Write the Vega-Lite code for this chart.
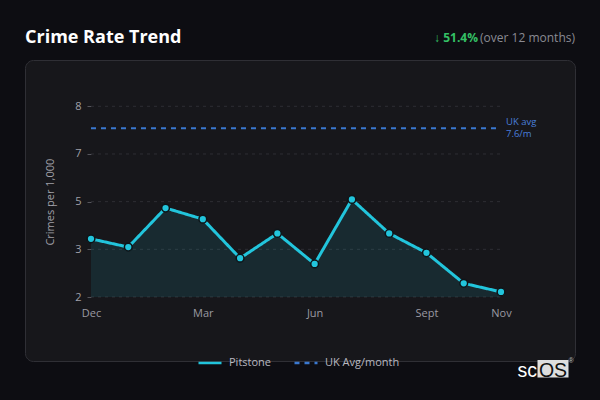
{
  "$schema": "https://vega.github.io/schema/vega-lite/v6.json",
  "width": 550,
  "height": 301,
  "autosize": {"type": "none"},
  "padding": {"left": 25, "top": 60, "right": 25, "bottom": 39},
  "background": "#0d0d12",
  "config": {
    "font": "Open Sans",
    "view": {"fill": "#17171b", "stroke": "#2f2f35", "cornerRadius": 8, "strokeWidth": 1},
    "legend": {
      "orient": "none",
      "legendX": 172,
      "legendY": 290,
      "direction": "horizontal",
      "symbolType": "stroke",
      "symbolSize": 529,
      "symbolStrokeWidth": 2.5,
      "labelColor": "#b8b8c0",
      "labelFontSize": 11,
      "labelFont": "Open Sans",
      "labelOffset": 6,
      "columnPadding": 17,
      "title": null
    }
  },
  "datasets": {
    "trend": [
      {"month": "Dec", "rate": 3.83, "series": "Pitstone"},
      {"month": "Jan", "rate": 3.57, "series": "Pitstone"},
      {"month": "Feb", "rate": 4.80, "series": "Pitstone"},
      {"month": "Mar", "rate": 4.45, "series": "Pitstone"},
      {"month": "Apr", "rate": 3.22, "series": "Pitstone"},
      {"month": "May", "rate": 4.00, "series": "Pitstone"},
      {"month": "Jun", "rate": 3.04, "series": "Pitstone"},
      {"month": "Jul", "rate": 5.07, "series": "Pitstone"},
      {"month": "Aug", "rate": 4.00, "series": "Pitstone"},
      {"month": "Sept", "rate": 3.39, "series": "Pitstone"},
      {"month": "Oct", "rate": 2.43, "series": "Pitstone"},
      {"month": "Nov", "rate": 2.16, "series": "Pitstone"}
    ],
    "uk": [{"from": "Dec", "to": "Nov", "value": 7.31, "series": "UK Avg/month"}],
    "grid": [{"v": 2}, {"v": 3.5}, {"v": 5}, {"v": 6.5}, {"v": 8}]
  },
  "layer": [
    {
      "data": {"name": "grid"},
      "mark": {"type": "rule", "stroke": "#2e2e34", "strokeWidth": 1, "strokeDash": [3, 4]},
      "encoding": {
        "x": {"datum": "Dec", "type": "ordinal", "title": null, "scale": {"type": "point", "padding": 0, "domain": ["Dec","Jan","Feb","Mar","Apr","May","Jun","Jul","Aug","Sept","Oct","Nov"], "range": [66, 476]}},
        "x2": {"datum": "Nov"},
        "y": {"field": "v", "type": "quantitative", "title": "Crimes per 1,000", "scale": {"domain": [2, 8], "range": [237, 46.3], "nice": false, "zero": false}}
      }
    },
    {
      "data": {"name": "trend"},
      "mark": {"type": "area", "fill": "#22c5dc", "fillOpacity": 0.11},
      "encoding": {
        "x": {"field": "month", "type": "ordinal", "sort": null, "title": null},
        "y": {"field": "rate", "type": "quantitative", "title": "Crimes per 1,000"},
        "y2": {"datum": 2}
      }
    },
    {
      "data": {"name": "uk"},
      "mark": {"type": "rule", "strokeWidth": 2},
      "encoding": {
        "x": {"field": "from", "type": "ordinal", "title": null},
        "x2": {"field": "to"},
        "y": {"field": "value", "type": "quantitative", "title": "Crimes per 1,000"},
        "color": {"field": "series", "type": "nominal", "scale": {"domain": ["Pitstone", "UK Avg/month"], "range": ["#22c5dc", "#3a78d0"]}},
        "strokeDash": {"field": "series", "type": "nominal", "scale": {"domain": ["Pitstone", "UK Avg/month"], "range": [[1, 0], [5, 5]]}}
      }
    },
    {
      "data": {"name": "trend"},
      "mark": {"type": "line", "strokeWidth": 3},
      "encoding": {
        "x": {
          "field": "month", "type": "ordinal", "sort": null, "title": null,
          "axis": {
            "orient": "bottom", "offset": -64, "values": ["Dec", "Mar", "Jun", "Sept", "Nov"],
            "labelAngle": 0, "labelAlign": "center", "labelBaseline": "top", "ticks": false, "domain": false, "grid": false,
            "labelColor": "#9a9aa2", "labelFontSize": 11, "labelFont": "Open Sans", "labelPadding": 10
          }
        },
        "y": {
          "field": "rate", "type": "quantitative", "title": "Crimes per 1,000",
          "axis": {
            "orient": "left", "offset": -66, "values": [2, 3.5, 5, 6.5, 8],
            "labelExpr": "datum.value == 3.5 ? '3' : datum.value == 6.5 ? '7' : format(datum.value, 'd')",
            "domain": false, "grid": false, "ticks": true, "tickSize": 4, "tickColor": "#55555c",
            "labelColor": "#a0a0a8", "labelFontSize": 11, "labelFont": "Open Sans", "labelPadding": 6,
            "titleColor": "#a0a0a8", "titleFontSize": 11, "titleFont": "Open Sans", "titleFontWeight": "normal", "titlePadding": 19
          }
        },
        "color": {"field": "series", "type": "nominal", "scale": {"domain": ["Pitstone", "UK Avg/month"], "range": ["#22c5dc", "#3a78d0"]}},
        "strokeDash": {"field": "series", "type": "nominal", "scale": {"domain": ["Pitstone", "UK Avg/month"], "range": [[1, 0], [5, 5]]}}
      }
    },
    {
      "data": {"name": "trend"},
      "mark": {"type": "point", "filled": true, "fill": "#22c5dc", "stroke": "#0e1418", "strokeWidth": 1.5, "size": 60, "opacity": 1},
      "encoding": {
        "x": {"field": "month", "type": "ordinal", "sort": null, "title": null},
        "y": {"field": "rate", "type": "quantitative", "title": "Crimes per 1,000"}
      }
    },
    {
      "data": {"name": "uk"},
      "mark": {"type": "text", "align": "left", "baseline": "middle", "dx": 5, "dy": -6, "fontSize": 9.5, "lineHeight": 12, "color": "#4a7fdc", "font": "Open Sans"},
      "encoding": {
        "x": {"field": "to", "type": "ordinal", "title": null},
        "y": {"field": "value", "type": "quantitative", "title": "Crimes per 1,000"},
        "text": {"value": ["UK avg", "7.6/m"]}
      }
    },
    {
      "data": {"name": "uk"},
      "mark": {"type": "text", "align": "left", "baseline": "alphabetic", "dx": -66, "dy": -63, "fontSize": 18, "fontWeight": "bold", "color": "#ffffff", "font": "Open Sans"},
      "encoding": {
        "x": {"field": "from", "type": "ordinal", "title": null},
        "y": {"datum": 8, "type": "quantitative", "title": "Crimes per 1,000"},
        "text": {"value": "Crime Rate Trend"}
      }
    },
    {
      "data": {"name": "uk"},
      "mark": {"type": "text", "align": "right", "baseline": "alphabetic", "dx": 74, "dy": -64, "fontSize": 12, "color": "#8a8a92", "font": "Open Sans"},
      "encoding": {
        "x": {"field": "to", "type": "ordinal", "title": null},
        "y": {"datum": 8, "type": "quantitative", "title": "Crimes per 1,000"},
        "text": {"value": "(over 12 months)"}
      }
    },
    {
      "data": {"name": "uk"},
      "mark": {"type": "text", "align": "right", "baseline": "alphabetic", "dx": -23, "dy": -64, "fontSize": 12, "fontWeight": "bold", "color": "#34c065", "font": "Open Sans"},
      "encoding": {
        "x": {"field": "to", "type": "ordinal", "title": null},
        "y": {"datum": 8, "type": "quantitative", "title": "Crimes per 1,000"},
        "text": {"value": "↓ 51.4%"}
      }
    },
    {
      "data": {"name": "uk"},
      "mark": {"type": "rect", "fill": "#dedede", "xOffset": 36.5, "x2Offset": 67.5, "yOffset": 63, "y2Offset": 80.5},
      "encoding": {
        "x": {"field": "to", "type": "ordinal", "title": null},
        "x2": {"field": "to"},
        "y": {"datum": 2, "type": "quantitative", "title": "Crimes per 1,000"},
        "y2": {"datum": 2}
      }
    },
    {
      "data": {"name": "uk"},
      "mark": {"type": "text", "align": "left", "baseline": "alphabetic", "dx": 16.5, "dy": 79.5, "fontSize": 19.5, "color": "#ffffff", "font": "Liberation Sans"},
      "encoding": {
        "x": {"field": "to", "type": "ordinal", "title": null},
        "y": {"datum": 2, "type": "quantitative", "title": "Crimes per 1,000"},
        "text": {"value": "sc"}
      }
    },
    {
      "data": {"name": "uk"},
      "mark": {"type": "text", "align": "center", "baseline": "alphabetic", "dx": 52, "dy": 79.5, "fontSize": 19.5, "color": "#111111", "font": "Liberation Sans"},
      "encoding": {
        "x": {"field": "to", "type": "ordinal", "title": null},
        "y": {"datum": 2, "type": "quantitative", "title": "Crimes per 1,000"},
        "text": {"value": "OS"}
      }
    },
    {
      "data": {"name": "uk"},
      "mark": {"type": "text", "align": "center", "baseline": "middle", "dx": 70, "dy": 64, "fontSize": 7, "color": "#bbbbbb", "font": "Liberation Sans"},
      "encoding": {
        "x": {"field": "to", "type": "ordinal", "title": null},
        "y": {"datum": 2, "type": "quantitative", "title": "Crimes per 1,000"},
        "text": {"value": "®"}
      }
    }
  ]
}
